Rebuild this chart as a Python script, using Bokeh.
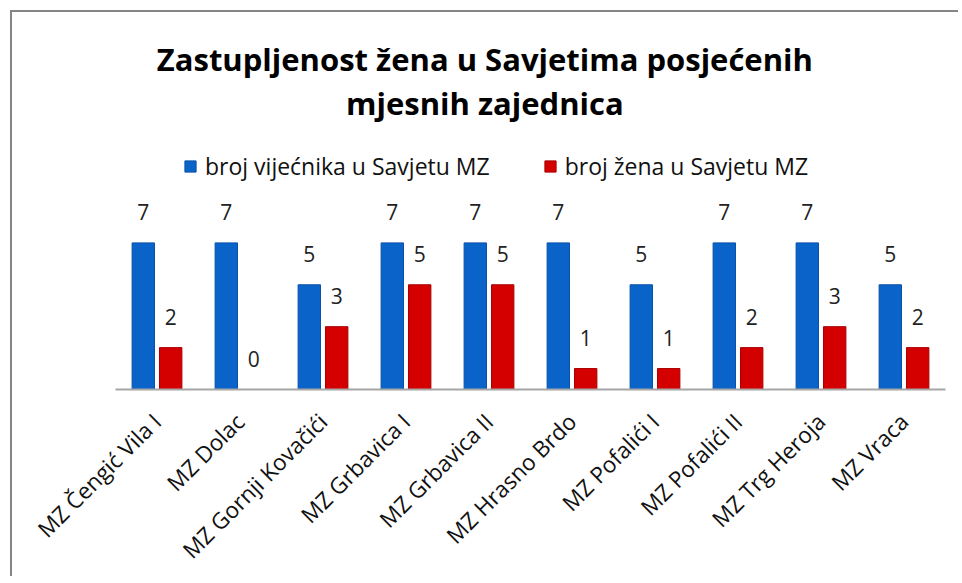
import math
from bokeh.plotting import figure
from bokeh.models import Range1d, FactorRange, ColumnDataSource, Legend, LegendItem, LabelSet, Label
from bokeh.transform import dodge
from bokeh.core.properties import value
from bokeh.embed import file_html
from bokeh.resources import INLINE

categories = ["MZ Čengić Vila I", "MZ Dolac", "MZ Gornji Kovačići", "MZ Grbavica I",
              "MZ Grbavica II", "MZ Hrasno Brdo", "MZ Pofalići I", "MZ Pofalići II",
              "MZ Trg Heroja", "MZ Vraca"]
councillors = [7, 7, 5, 7, 7, 7, 5, 7, 7, 5]
women = [2, 0, 3, 5, 5, 1, 1, 2, 3, 2]
series_names = ["broj vijećnika u Savjetu MZ", "broj žena u Savjetu MZ"]
title_lines = ["Zastupljenost žena u Savjetima posjećenih", "mjesnih zajednica"]

FONT = "Open Sans"

src = ColumnDataSource(dict(
    cat=categories,
    total=councillors,
    women=women,
    total_lbl=[str(v) for v in councillors],
    women_lbl=[str(v) for v in women],
))

# the (invisible) plot frame reaches up to the top of the canvas, so the
# title and legend live inside it
p = figure(x_range=FactorRange(factors=categories, range_padding=0),
           y_range=Range1d(0, 18.0),
           width=948, height=566,
           output_backend="svg", toolbar_location=None,
           min_border_left=103, min_border_right=15,
           min_border_top=0, min_border_bottom=188)
p.styles = {"border-top": "2px solid #858585", "border-left": "2px solid #858585",
            "margin-left": "10px", "margin-top": "10px"}

p.background_fill_color = "white"
p.border_fill_color = "white"
p.outline_line_color = None
p.xgrid.visible = False
p.ygrid.visible = False
p.yaxis.visible = False
p.title.visible = False

# two centred title lines (x in the categorical range's synthetic units)
for txt, ty in ((title_lines[0], 15.78), (title_lines[1], 13.69)):
    p.add_layout(Label(x=4.45, y=ty, text=txt,
                       text_align="center", text_baseline="alphabetic",
                       text_font=FONT, text_font_style="bold",
                       text_font_size="31px", text_color="#000000"))

xa = p.xaxis[0]
xa.axis_line_color = "#a6a6a6"
xa.axis_line_width = 2
xa.major_tick_line_color = None
xa.minor_tick_line_color = None
xa.major_label_orientation = math.pi / 4
xa.major_label_standoff = 22
xa.major_label_text_font = FONT
xa.major_label_text_font_size = "22.5px"
xa.major_label_text_color = "#111111"

off = 0.165
bw = 0.27
r1 = p.vbar(x=dodge("cat", -off, range=p.x_range), top="total", width=bw, bottom=0,
            source=src, fill_color="#0a63c8", line_color="#0a52a8", line_width=1)
r2 = p.vbar(x=dodge("cat", off, range=p.x_range), top="women", width=bw, bottom=0,
            source=src, fill_color="#d40000", line_color="#a80000", line_width=1)

for col, lbl, d in (("total", "total_lbl", -off), ("women", "women_lbl", off)):
    ls = LabelSet(x=dodge("cat", d, range=p.x_range), y=col, text=lbl, source=src,
                  y_offset=23, text_align="center", text_baseline="bottom",
                  text_font=value(FONT), text_font_size="21px", text_color="#222222")
    p.add_layout(ls)

legend = Legend(items=[LegendItem(label=series_names[0], renderers=[r1]),
                       LegendItem(label=series_names[1], renderers=[r2])],
                orientation="horizontal", location=(68, 207),
                padding=0, margin=0, spacing=53, label_standoff=8,
                glyph_width=14, glyph_height=14,
                label_text_font=FONT, label_text_font_size="23px",
                label_text_color="#111111",
                border_line_color=None, background_fill_alpha=0)
p.add_layout(legend, "center")

open("out.html", "w").write(file_html(p, INLINE))
